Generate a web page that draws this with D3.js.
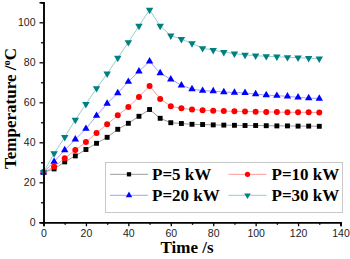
<!DOCTYPE html>
<html lang="en">
<head>
<meta charset="UTF-8"/>
<script src="https://d3js.org/d3.v7.min.js"></script>
<style>
  body { margin: 0; background: #fff; }
  .tick text { font-family: "Liberation Sans", Arial, sans-serif; font-size: 10.5px; fill: #222; }
  .ttl { font-family: "Liberation Serif", "Times New Roman", serif; font-weight: bold; fill: #000; }
</style>
</head>
<body>
<script type="text/javascript">
  // values (time in s, temperature in deg C)
  var times = [0, 5, 10, 15, 20, 25, 30, 35, 40, 45, 50, 55, 60, 65, 70,
               75, 80, 85, 90, 95, 100, 105, 110, 115, 120, 125, 130];

  var p5  = [25, 26.7, 30.2, 33.2, 36.4, 39.5, 42.5, 46.5, 49.5, 53, 56.4, 52, 49.8, 49.4,
             49, 48.9, 48.7, 48.6, 48.5, 48.4, 48.4, 48.3, 48.2, 48.2, 48.1, 48.1, 48];
  var p10 = [25, 27.8, 32, 36.1, 40.1, 44.7, 49, 53.5, 57.6, 62.7, 68.2, 61.7, 58, 57,
             56.4, 56, 55.8, 55.6, 55.5, 55.4, 55.3, 55.2, 55.1, 55, 55, 55, 54.9];
  var p20 = [25, 30.3, 36.1, 41.5, 46.8, 53.3, 59.4, 64.6, 70.3, 75.5, 80.5, 74.6, 71.5, 68.5,
             66.6, 65.8, 65.6, 65.1, 64.9, 64.7, 64.1, 63.6, 63.3, 63, 62.5, 62.1, 61.9];
  var p30 = [25, 34.4, 42.6, 51.2, 59.1, 67, 74.3, 82.2, 90, 98.2, 106.2, 98.2, 93.3, 91.6,
             89.4, 87, 86.1, 85.1, 84.3, 83.7, 83.3, 83, 82.8, 82.5, 82.3, 82.1, 81.8];

  var seriesNames = ["P=5 kW", "P=10 kW", "P=20 kW", "P=30 kW"];

  var xTicks = [0, 20, 40, 60, 80, 100, 120, 140];
  var yTicks = [0, 20, 40, 60, 80, 100];

  var w = 350, h = 259;

  var series = [
    { name: seriesNames[0], values: p5,  color: "#000000", line: "#9a9a9a", shape: d3.symbolSquare,   size: 24, rot: 0 },
    { name: seriesNames[1], values: p10, color: "#ff0000", line: "#ff9a9a", shape: d3.symbolCircle,   size: 28, rot: 0 },
    { name: seriesNames[2], values: p20, color: "#0000ff", line: "#a0a0ff", shape: d3.symbolTriangle, size: 24, rot: 0 },
    { name: seriesNames[3], values: p30, color: "#008080", line: "#90d0d0", shape: d3.symbolTriangle, size: 24, rot: 180 }
  ];

  var xScale = d3.scaleLinear().domain([0, 140]).range([43.5, 340.5]);
  var yScale = d3.scaleLinear().domain([0, 110]).range([222.3, 2.3]);

  var svg = d3.select("body").append("svg")
              .attr("width", w)
              .attr("height", h);

  // lines and markers
  var line = d3.line()
               .x(function(d, i) { return xScale(times[i]); })
               .y(function(d) { return yScale(d); });

  series.forEach(function(s) {
    svg.append("path")
       .datum(s.values)
       .attr("fill", "none")
       .attr("stroke", s.line)
       .attr("stroke-width", 1)
       .attr("d", line);

    svg.selectAll(null)
       .data(s.values)
       .enter()
       .append("path")
       .attr("d", d3.symbol().type(s.shape).size(s.size))
       .attr("fill", s.color)
       .attr("transform", function(d, i) {
         return "translate(" + xScale(times[i]) + "," + yScale(d) + ") rotate(" + s.rot + ")";
       });
  });

  // axes: major + minor ticks
  var xAxis = d3.axisBottom(xScale).tickValues(xTicks).tickSize(4).tickPadding(3).tickFormat(d3.format("d"));
  var xMinor = d3.axisBottom(xScale).tickValues(d3.range(10, 140, 20)).tickSize(2.5).tickFormat("");
  var yAxis = d3.axisLeft(yScale).tickValues(yTicks).tickSize(4).tickPadding(4).tickFormat(d3.format("d"));
  var yMinor = d3.axisLeft(yScale).tickValues(d3.range(10, 111, 20)).tickSize(2.5).tickFormat("");

  function styleAxis(g) {
    g.select(".domain").attr("stroke", "#000").attr("stroke-width", 1.5);
    g.selectAll(".tick line").attr("stroke", "#000").attr("stroke-width", 1.3);
  }

  svg.append("g").attr("transform", "translate(0,222.3)").call(xMinor).call(styleAxis);
  svg.append("g").attr("transform", "translate(0,222.3)").call(xAxis).call(styleAxis);
  svg.append("g").attr("transform", "translate(43.5,0)").call(yMinor).call(styleAxis);
  svg.append("g").attr("transform", "translate(43.5,0)").call(yAxis).call(styleAxis);

  // axis titles
  svg.append("text")
     .attr("class", "ttl")
     .attr("x", 187)
     .attr("y", 253)
     .attr("text-anchor", "middle")
     .style("font-size", "17px")
     .text("Time /s");

  var yt = svg.append("text")
     .attr("class", "ttl")
     .attr("transform", "translate(16,108.5) rotate(-90)")
     .attr("text-anchor", "middle")
     .style("font-size", "17px");
  yt.append("tspan").text("Temperature /");
  yt.append("tspan").attr("dy", -6.5).style("font-size", "10.5px").text("o");
  yt.append("tspan").attr("dy", 6.5).text("C");

  // legend
  var lg = svg.append("g");
  lg.append("rect")
    .attr("x", 105.5).attr("y", 162.5)
    .attr("width", 237).attr("height", 50)
    .attr("fill", "#fff")
    .attr("stroke", "#c8c8c8")
    .attr("stroke-width", 1);

  // [line start, row y, text x]
  var legendPos = [[110, 174.3, 152], [228.5, 174.3, 271.5], [110, 195.3, 152], [228.5, 195.3, 271.5]];
  series.forEach(function(s, i) {
    var p = legendPos[i];
    lg.append("line")
      .attr("x1", p[0]).attr("x2", p[0] + 38)
      .attr("y1", p[1]).attr("y2", p[1])
      .attr("stroke", s.line).attr("stroke-width", 1);
    lg.append("path")
      .attr("d", d3.symbol().type(s.shape).size(s.size * 0.75))
      .attr("fill", s.color)
      .attr("transform", "translate(" + (p[0] + 19) + "," + p[1] + ") rotate(" + s.rot + ")");
    lg.append("text")
      .attr("class", "ttl")
      .attr("x", p[2])
      .attr("y", p[1] + 6)
      .style("font-size", "17px")
      .text(s.name);
  });
</script>
</body>
</html>
